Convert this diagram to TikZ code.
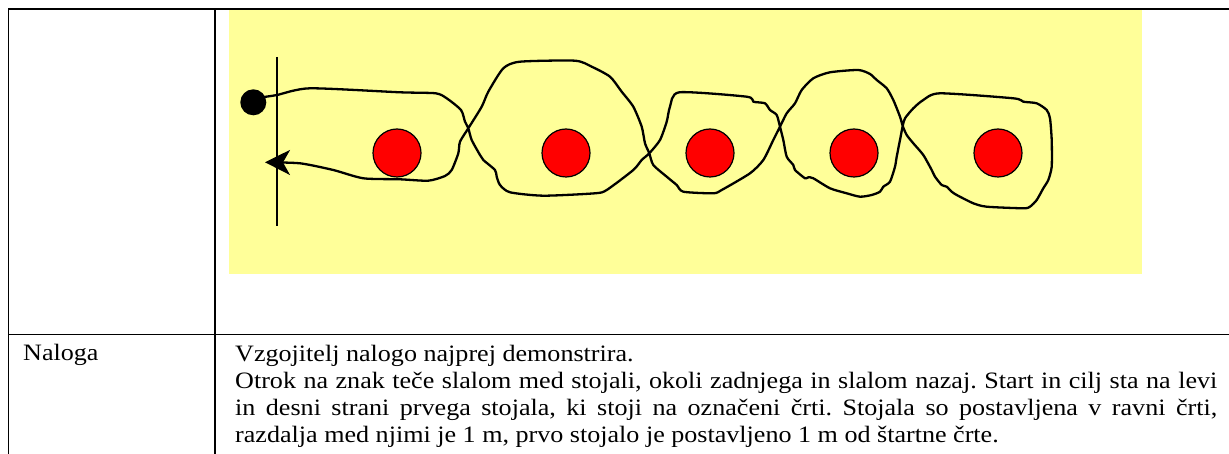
\documentclass[tikz,border=0pt]{standalone}
\usepackage{fontspec}
\setmainfont{Liberation Serif}[FakeStretch=1.11]
\usetikzlibrary{arrows.meta}
\setlength{\parindent}{0pt}
\frenchspacing
\definecolor{polje}{HTML}{FFFF99}
\definecolor{stojalo}{HTML}{FF0000}
\tikzset{
  crta/.style={line width=1.5pt},
  pot/.style={line width=2.3pt, line join=round, line cap=round},
  stozec/.style={fill=stojalo, draw=black, line width=1.2pt},
  besedilo/.style={font=\fontsize{23.5}{27}\selectfont, inner sep=0pt},
}
\begin{document}
\begin{tikzpicture}[x=1pt,y=-1pt]
  \useasboundingbox (0,0) rectangle (1229,454);
  % table
  \draw[crta] (8.5,454) -- (8.5,9) -- (1229,9);
  \draw[crta] (215,9) -- (215,454);
  \draw[crta] (8.5,334.5) -- (1229,334.5);
  % playground
  \fill[polje] (229,10) rectangle (1141.5,274);
  \draw[line width=1.3pt] (277,57) -- (277,226);
  \fill (253.3,102.3) circle (13pt);
  \filldraw[stozec] (397,153) circle (24pt);
  \filldraw[stozec] (566,153) circle (24pt);
  \filldraw[stozec] (710,153) circle (24pt);
  \filldraw[stozec] (854,153) circle (24pt);
  \filldraw[stozec] (998,153) circle (24pt);
  % slalom there and back
  \draw[pot, -{Stealth[length=25pt,width=25pt,inset=7pt]}] plot[smooth, tension=0.4] coordinates {
    (264,97) (277,95) (310,88.3) (400,92.3) (435.7,93.3) (446.7,98.3) (461,110)
    (465,121.7) (468.3,128.3) (471.7,140) (480,155) (483.3,160) (495,170)
    (496.7,176.7) (500,185) (510,192.3) (543.3,195.7) (595,193.3) (606.7,190)
    (633.3,170) (641.7,160) (649.3,153.3) (660,140) (666.7,121.7) (670,106.7)
    (679.3,92.3) (746.7,96.7) (753.3,101.7) (765,103.3) (770,110) (776.7,115)
    (780,126.7) (783.3,140) (786.7,156.7) (793.3,165) (795,170) (805,178.3)
    (808.3,177.3) (813.3,178.3) (830,188.3) (846.7,193.3) (860,196.7) (871.7,195)
    (880,191.7) (883.3,186.7) (890,181.7) (895,166.7) (896.7,156.7) (900,140)
    (902.7,126) (905,118.3) (913.3,108.3) (923.3,100) (940,93.3) (1013.3,98.3)
    (1023.3,101.7) (1036.7,103.3) (1046.7,110) (1050,118.3) (1051.7,140)
    (1051.7,166.7) (1048.3,180) (1043.3,188.3) (1036.7,200) (1030,206.7)
    (1023.3,208.3) (986.7,206.7) (973.3,203.3) (956.7,195) (951.7,191.7)
    (946.7,186.7) (941.7,185) (935,176.7) (931.7,170) (923.3,155) (913.3,143.3)
    (906.7,135) (902.7,126) (900,116.7) (893.3,100) (886.7,88.3) (876.7,80)
    (870,74) (858.3,70) (830,72.3) (813.3,78.3) (801.7,90) (795,103.3)
    (786.7,113.3) (780,126.7) (773.3,140) (763.3,160) (750,173.3) (721.7,190)
    (713.3,193.3) (683.3,191.7) (676.7,185) (666.7,176.7) (653.3,165)
    (649.3,153.3) (645,143.3) (641.7,126.7) (633.3,106.7) (621.7,91.7)
    (610,76.7) (591.7,66.7) (575,60.7) (520,61.7) (503.3,68.3) (488.3,91.7)
    (481.7,106.7) (468.3,128.3) (460,141.7) (458.3,153.3) (451.7,170) (445,176)
    (428.3,180.7) (400,179.3) (363.3,178.3) (333.3,170) (300,163.3) (265,162.3)};
  % text row
  \node[besedilo, anchor=base west] (naloga) at (23,360.7) {Naloga};
  \node[besedilo, anchor=north west, text width=982pt, align=justify] (opis) at (235,344.6)
    {Vzgojitelj nalogo najprej demonstrira.\par
     Otrok na znak teče slalom med stojali, okoli zadnjega in slalom nazaj. Start in cilj sta na levi\linebreak
     in desni strani prvega stojala, ki stoji na označeni črti. Stojala so postavljena v ravni črti,\linebreak
     razdalja med njimi je 1 m, prvo stojalo je postavljeno 1 m od štartne črte.};
\end{tikzpicture}
\end{document}
